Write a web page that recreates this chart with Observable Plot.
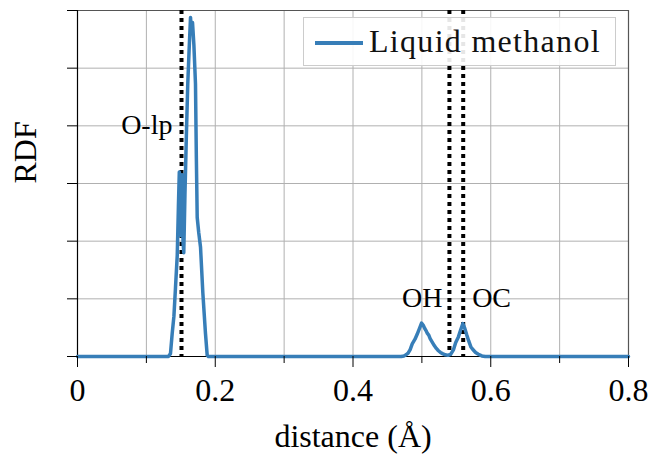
<!DOCTYPE html>
<html>
<head>
<meta charset="utf-8">
<script src="https://cdn.jsdelivr.net/npm/d3@7"></script>
<script src="https://cdn.jsdelivr.net/npm/@observablehq/plot@0.6"></script>
<style>
  html, body { margin: 0; padding: 0; background: #fff; }
  #wrap { position: relative; width: 664px; height: 454px; font-family: 'Liberation Serif', 'Times New Roman', serif; }
  #chart svg text { font-family: 'Liberation Serif', 'Times New Roman', serif !important; }
  #legend { position: absolute; left: 303px; top: 17px; width: 311px; height: 47px;
            border: 1px solid #cccccc; background: rgba(255,255,255,0.9); box-sizing: content-box; }
  #legend .swatch { position: absolute; left: 11px; top: 23px; width: 48px; height: 4px; background: #377eb8; }
  #legend .lbl { position: absolute; left: 65px; top: 5px; font-family: 'Liberation Serif', 'Times New Roman', serif;
                 font-size: 32px; line-height: 36px; letter-spacing: 1.3px; color: #111; white-space: nowrap; }
</style>
</head>
<body>
<div id="wrap">
  <div id="chart"></div>
  <div id="legend"><div class="swatch"></div><div class="lbl">Liquid methanol</div></div>
</div>
<script>
// RDF of liquid methanol
const distance = [
  0.000, 0.125, 0.132, 0.135, 0.1375, 0.140, 0.1423, 0.1448, 0.1465, 0.1478, 0.1486, 0.1492, 0.1498,
  0.1505, 0.151, 0.152, 0.1532, 0.1543, 0.156, 0.158, 0.1601, 0.162, 0.1641, 0.1655, 0.167, 0.169,
  0.1713, 0.1725, 0.1738, 0.176, 0.1786, 0.182, 0.1858, 0.1883, 0.190,
  0.470, 0.474, 0.477, 0.480, 0.483, 0.486, 0.490, 0.493, 0.496, 0.4995, 0.502, 0.504, 0.506,
  0.508, 0.510, 0.512, 0.515, 0.518, 0.521, 0.524, 0.527, 0.530, 0.534, 0.538, 0.542, 0.546,
  0.549, 0.553, 0.556, 0.5595, 0.562, 0.565, 0.568, 0.571, 0.574, 0.578, 0.582, 0.587, 0.592,
  0.800
];
const rdf = [
  0, 0, 0, 0.05, 0.4, 0.7, 1.2, 1.75, 2.6, 3.2, 2.3, 3.0, 2.1,
  3.15, 2.5, 3.15, 2.0, 1.8, 2.8, 3.8, 4.73, 5.3, 5.88, 5.6, 5.79, 5.4,
  4.73, 3.5, 2.41, 2.15, 1.9, 1.1, 0.4, 0.02, 0,
  0, 0.01, 0.03, 0.06, 0.12, 0.22, 0.30, 0.38, 0.47, 0.58, 0.54, 0.49, 0.45,
  0.40, 0.37, 0.31, 0.25, 0.19, 0.14, 0.10, 0.07, 0.05, 0.03, 0.02, 0.04, 0.12,
  0.24, 0.34, 0.45, 0.57, 0.50, 0.38, 0.27, 0.17, 0.12, 0.07, 0.04, 0.01, 0,
  0
];
const referenceLines = [0.151, 0.54, 0.56];
const xMajorTicks = [0, 0.2, 0.4, 0.6, 0.8];
const xMinorTicks = [0.1, 0.3, 0.5, 0.7];
const yTicks = [0, 1, 2, 3, 4, 5, 6];
const peakNamesLeft = ["O-lp", "OH"];
const peakNamesRight = ["OC"];

const series = distance.map((d, i) => ({distance: d, rdf: rdf[i]}));

const serif = "'Liberation Serif', 'Times New Roman', serif";
const blue = "#377eb8";
const chart = Plot.plot({
  width: 664,
  height: 454,
  marginLeft: 77,
  marginRight: 36,
  marginTop: 10,
  marginBottom: 98,
  style: {fontFamily: serif, fontSize: "32px", color: "#000", background: "#fff"},
  x: {domain: [0, 0.8]},
  y: {domain: [0, 6]},
  marks: [
    Plot.gridX(d3.range(1, 8).map(i => i / 10), {stroke: "#b0b0b0", strokeOpacity: 1, strokeWidth: 1}),
    Plot.gridY(yTicks, {stroke: "#b0b0b0", strokeOpacity: 1, strokeWidth: 1}),
    Plot.ruleX([0.8], {stroke: "#555", strokeWidth: 1.2}),
    Plot.ruleY([6], {stroke: "#555", strokeWidth: 1.2}),
    Plot.ruleX([0], {stroke: "#000", strokeWidth: 1.2}),
    Plot.ruleY([0], {stroke: "#000", strokeWidth: 1.2}),
    Plot.ruleX(referenceLines, {stroke: "#000", strokeWidth: 4, strokeDasharray: "4,4"}),
    Plot.line(series, {x: "distance", y: "rdf", stroke: blue, strokeWidth: 3.5, strokeLinejoin: "round"}),
    Plot.axisX(xMajorTicks, {tickSize: 11, tickPadding: 11, fontSize: 32, fontFamily: serif, label: null, tickFormat: d => String(d)}),
    Plot.axisX(xMinorTicks, {tickSize: 7, tickFormat: () => "", label: null}),
    Plot.axisY(yTicks, {tickSize: 10, tickFormat: () => "", label: null}),
    Plot.text(peakNamesLeft, {x: [0.1379, 0.53], y: [4.02, 1.01], text: d => d, textAnchor: "end", fontSize: 28, fontFamily: serif, lineAnchor: "middle"}),
    Plot.text(peakNamesRight, {x: [0.573], y: [1.01], text: d => d, textAnchor: "start", fontSize: 28, fontFamily: serif, lineAnchor: "middle"}),
    Plot.text(["distance (Å)"], {frameAnchor: "bottom", dy: 80, fontSize: 32, fontFamily: serif, lineAnchor: "middle", letterSpacing: 1.5}),
    Plot.text(["RDF"], {frameAnchor: "left", dx: -52, rotate: -90, fontSize: 32, fontFamily: serif, lineAnchor: "middle", letterSpacing: 2})
  ]
});
document.getElementById("chart").appendChild(chart);
</script>
</body>
</html>
